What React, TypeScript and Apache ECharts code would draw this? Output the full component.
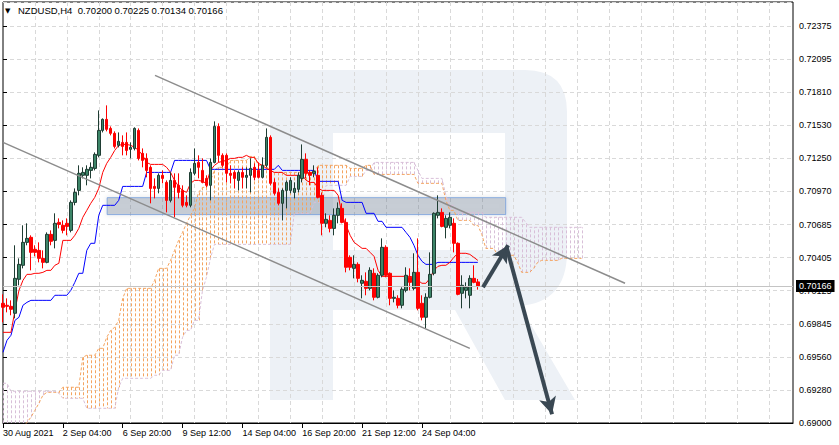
import React, { useEffect, useRef } from "react";
import * as echarts from "echarts";

const symbolName = "NZDUSD";
const timeframe = "H4";
const timeLabels = ["30 Aug 2021", "2 Sep 04:00", "6 Sep 20:00", "9 Sep 12:00", "14 Sep 04:00", "16 Sep 20:00", "21 Sep 12:00", "24 Sep 04:00"];
const labelStep = 15;
const gridStep = 8;
const slotCount = 199;
const priceTicks = [0.69, 0.6928, 0.6956, 0.69845, 0.70125, 0.70405, 0.70685, 0.7097, 0.7125, 0.7153, 0.7181, 0.72095, 0.72375];
const priceMin = 0.69;
const priceMax = 0.7258;
const priceStep = 0.0028125;

// [open, close, low, high]
const candles = [
  [0.70018, 0.69984, 0.69856, 0.70094], [0.70001, 0.69992, 0.69941, 0.7006], [0.69992, 0.69967, 0.69916, 0.70043], [0.69933, 0.7023, 0.6989, 0.70511], [0.70222, 0.70349, 0.70171, 0.704],
  [0.70341, 0.70536, 0.70315, 0.70681], [0.70536, 0.7057, 0.70511, 0.70698], [0.70579, 0.70451, 0.70298, 0.70596], [0.70477, 0.70451, 0.70417, 0.70511], [0.70468, 0.704, 0.70366, 0.70536],
  [0.704, 0.70366, 0.70315, 0.70468], [0.70366, 0.70604, 0.70358, 0.70621], [0.70604, 0.70545, 0.70511, 0.70638], [0.70553, 0.70698, 0.70485, 0.70783], [0.70706, 0.70689, 0.70655, 0.7074],
  [0.70681, 0.70638, 0.70613, 0.70723], [0.70698, 0.70672, 0.70596, 0.7074], [0.70638, 0.70876, 0.70621, 0.70893], [0.70876, 0.70961, 0.70851, 0.70995], [0.70978, 0.71123, 0.70936, 0.71191],
  [0.71106, 0.71131, 0.7108, 0.71174], [0.71106, 0.71157, 0.71021, 0.71191], [0.71148, 0.71174, 0.7108, 0.71216], [0.71165, 0.71284, 0.71148, 0.71301], [0.71276, 0.71488, 0.71259, 0.71658],
  [0.71488, 0.71582, 0.71471, 0.7159], [0.71582, 0.71497, 0.7148, 0.71701], [0.71505, 0.71463, 0.71446, 0.71522], [0.71463, 0.71352, 0.71335, 0.7148], [0.71361, 0.71395, 0.71344, 0.71471],
  [0.71386, 0.71352, 0.71276, 0.71446], [0.71386, 0.71318, 0.71276, 0.71471], [0.71327, 0.71344, 0.7125, 0.71386], [0.71335, 0.71505, 0.71318, 0.71514], [0.71488, 0.7125, 0.71233, 0.71505],
  [0.71293, 0.71233, 0.71174, 0.71335], [0.7125, 0.71148, 0.71089, 0.71293], [0.71174, 0.70995, 0.70868, 0.71191], [0.71012, 0.70995, 0.7091, 0.7108], [0.70995, 0.71106, 0.70953, 0.71123],
  [0.71106, 0.7108, 0.71038, 0.71148], [0.71046, 0.70893, 0.70791, 0.71063], [0.70893, 0.71063, 0.70876, 0.71131], [0.71063, 0.71004, 0.70749, 0.71123], [0.71021, 0.70961, 0.7091, 0.71123],
  [0.70978, 0.70851, 0.70834, 0.71021], [0.70876, 0.70851, 0.70834, 0.70936], [0.70851, 0.71131, 0.70834, 0.71165], [0.71123, 0.71208, 0.71106, 0.71335], [0.71216, 0.71174, 0.7108, 0.71276],
  [0.71148, 0.71046, 0.71038, 0.7125], [0.7108, 0.71021, 0.71004, 0.71106], [0.71021, 0.71216, 0.70893, 0.7125], [0.71216, 0.71522, 0.71208, 0.71565], [0.71522, 0.71276, 0.71216, 0.71548],
  [0.71276, 0.71191, 0.71174, 0.71293], [0.71276, 0.71123, 0.71046, 0.71293], [0.71123, 0.71106, 0.71038, 0.71191], [0.71131, 0.7108, 0.70995, 0.71148], [0.71063, 0.71131, 0.70978, 0.71148],
  [0.71131, 0.71089, 0.70995, 0.71174], [0.71089, 0.71106, 0.70995, 0.71174], [0.71106, 0.71165, 0.70961, 0.7125], [0.71174, 0.71089, 0.71063, 0.71208], [0.71148, 0.71089, 0.7108, 0.71216],
  [0.71089, 0.71191, 0.7108, 0.71259], [0.71191, 0.71429, 0.71174, 0.71505], [0.71429, 0.71038, 0.71021, 0.71446], [0.71046, 0.70953, 0.70936, 0.7108], [0.70961, 0.70868, 0.70851, 0.70995],
  [0.70868, 0.70978, 0.70723, 0.70995], [0.70978, 0.71046, 0.70825, 0.71063], [0.70978, 0.71063, 0.70953, 0.71089], [0.70961, 0.70995, 0.7091, 0.71046], [0.70987, 0.71106, 0.70961, 0.71131],
  [0.7108, 0.71242, 0.71046, 0.71369], [0.71242, 0.71123, 0.7108, 0.71293], [0.71131, 0.71106, 0.71021, 0.71148], [0.71123, 0.7114, 0.71089, 0.71191], [0.71106, 0.70919, 0.7091, 0.71174],
  [0.70936, 0.70698, 0.70596, 0.70961], [0.70698, 0.70732, 0.70664, 0.70783], [0.70723, 0.70655, 0.70621, 0.70766], [0.70655, 0.70766, 0.70596, 0.70825], [0.70766, 0.70825, 0.70698, 0.70876],
  [0.70825, 0.70706, 0.70698, 0.70868], [0.70706, 0.70324, 0.70281, 0.7074], [0.70409, 0.70324, 0.70298, 0.70426], [0.70315, 0.70349, 0.7023, 0.70426], [0.70349, 0.7023, 0.70196, 0.70366],
  [0.70188, 0.70213, 0.7006, 0.70256], [0.70205, 0.70145, 0.70086, 0.70281], [0.70145, 0.70298, 0.70128, 0.70324], [0.70273, 0.70069, 0.70043, 0.70315], [0.70069, 0.70256, 0.7006, 0.70273],
  [0.70256, 0.70494, 0.70239, 0.7057], [0.70494, 0.70256, 0.70239, 0.70511], [0.70273, 0.7006, 0.70001, 0.70281], [0.7006, 0.70069, 0.70026, 0.70128], [0.7006, 0.70001, 0.69975, 0.70086],
  [0.70001, 0.70137, 0.69975, 0.70154], [0.70128, 0.70256, 0.70111, 0.70324], [0.70239, 0.70196, 0.70128, 0.70315], [0.70145, 0.70281, 0.70128, 0.70443], [0.70281, 0.69975, 0.69958, 0.7057],
  [0.70018, 0.69899, 0.69873, 0.70086], [0.69899, 0.70069, 0.69805, 0.70103], [0.70069, 0.70264, 0.7006, 0.70451], [0.70273, 0.70783, 0.70256, 0.70791], [0.70766, 0.70791, 0.7074, 0.70936],
  [0.70791, 0.70672, 0.70664, 0.70825], [0.70664, 0.7074, 0.7057, 0.70766], [0.70681, 0.70749, 0.70655, 0.70791], [0.70698, 0.70528, 0.70451, 0.7074], [0.70528, 0.70094, 0.70086, 0.70536],
  [0.70103, 0.70171, 0.69975, 0.70256], [0.70128, 0.70154, 0.7006, 0.70196], [0.70086, 0.7023, 0.69975, 0.70256], [0.7023, 0.70196, 0.70188, 0.70341], [0.702, 0.70166, 0.70134, 0.70225],
];

const tenkan = [
  0.69771, 0.69771, 0.69771, 0.69958, 0.70128, 0.70213, 0.70264, 0.70264, 0.70273, 0.70273,
  0.70281, 0.70298, 0.70298, 0.70341, 0.70358, 0.70553, 0.70553, 0.70553, 0.70596, 0.70655,
  0.70749, 0.70808, 0.70868, 0.70919, 0.70995, 0.71131, 0.71208, 0.71259, 0.71318, 0.71361,
  0.71369, 0.71369, 0.71361, 0.71344, 0.71318, 0.71276, 0.71216, 0.71199, 0.71199, 0.71199,
  0.71199, 0.71174, 0.71131, 0.71063, 0.71012, 0.70978, 0.70961, 0.71038, 0.71063, 0.71063,
  0.71055, 0.71038, 0.71148, 0.71191, 0.71216, 0.71225, 0.71233, 0.7125, 0.7125, 0.71259,
  0.71259, 0.71276, 0.71259, 0.71259, 0.71208, 0.71191, 0.71165, 0.71148, 0.71131, 0.71131,
  0.71131, 0.71106, 0.71106, 0.71106, 0.71106, 0.71106, 0.71063, 0.71046, 0.71046, 0.70995,
  0.70978, 0.70978, 0.70978, 0.70978, 0.70936, 0.70766, 0.70681, 0.70596, 0.70536, 0.70511,
  0.70485, 0.70485, 0.70451, 0.70417, 0.70298, 0.70247, 0.70247, 0.70247, 0.70247, 0.70247,
  0.70247, 0.70247, 0.70247, 0.70239, 0.70213, 0.70188, 0.70188, 0.7023, 0.70298, 0.70332,
  0.70341, 0.70341, 0.70366, 0.70409, 0.70443, 0.70443, 0.70443, 0.70434, 0.70409, 0.70383,
];

const kijun = [
  0.69601, 0.69703, 0.69746, 0.69873, 0.69899, 0.70001, 0.70026, 0.70043, 0.70043, 0.70043,
  0.70043, 0.70043, 0.70043, 0.70086, 0.70086, 0.70086, 0.70086, 0.70128, 0.70196, 0.70273,
  0.70273, 0.70468, 0.70528, 0.70528, 0.70766, 0.70851, 0.70851, 0.70851, 0.70851, 0.70893,
  0.71012, 0.71012, 0.71012, 0.71012, 0.71012, 0.71012, 0.71131, 0.71131, 0.71131, 0.71131,
  0.71131, 0.71131, 0.71131, 0.71233, 0.71233, 0.71233, 0.71233, 0.71233, 0.71233, 0.71233,
  0.71233, 0.71233, 0.71157, 0.71157, 0.71157, 0.71157, 0.71157, 0.71157, 0.71157, 0.71157,
  0.71157, 0.71157, 0.71157, 0.71157, 0.71157, 0.71157, 0.71157, 0.71157, 0.71157, 0.71191,
  0.71148, 0.71148, 0.71148, 0.71148, 0.71148, 0.71148, 0.71148, 0.71148, 0.71148, 0.71055,
  0.71055, 0.71055, 0.71055, 0.71055, 0.71055, 0.70893, 0.70876, 0.70876, 0.70876, 0.70876,
  0.70876, 0.70783, 0.70783, 0.70783, 0.70715, 0.70715, 0.70664, 0.70664, 0.70664, 0.70664,
  0.70664, 0.70621, 0.70579, 0.70511, 0.70426, 0.70375, 0.70349, 0.70349, 0.70349, 0.70366,
  0.70366, 0.70366, 0.70366, 0.70366, 0.70366, 0.70366, 0.70366, 0.70366, 0.70366, 0.70366,
];

const spanA = [
  0.68955, 0.68955, 0.68955, 0.68955, 0.68955, 0.68955, 0.69006, 0.69049, 0.69108, 0.69168,
  0.69236, 0.69261, 0.69261, 0.69261, 0.69261, 0.69304, 0.69304, 0.69304, 0.69304, 0.69304,
  0.69559, 0.69576, 0.69576, 0.69576, 0.69635, 0.69635, 0.69729, 0.69788, 0.69814, 0.69873,
  0.7006, 0.70145, 0.70145, 0.70145, 0.70145, 0.70145, 0.70145, 0.70145, 0.70213, 0.70315,
  0.70315, 0.70315, 0.70383, 0.70468, 0.70553, 0.70621, 0.70698, 0.70766, 0.70825, 0.70961,
  0.71004, 0.71004, 0.71063, 0.71148, 0.71174, 0.71174, 0.71174, 0.71233, 0.71233, 0.71233,
  0.71233, 0.71233, 0.71267, 0.71267, 0.71191, 0.71191, 0.71191, 0.71131, 0.71131, 0.71131,
  0.71131, 0.71131, 0.71131, 0.71131, 0.71131, 0.71131, 0.71131, 0.71131, 0.71131, 0.71191,
  0.71191, 0.71191, 0.71191, 0.71191, 0.71191, 0.71191, 0.71191, 0.71165, 0.71165, 0.71165,
  0.71165, 0.71191, 0.71191, 0.71114, 0.71114, 0.71114, 0.71114, 0.71114, 0.71114, 0.71114,
  0.71114, 0.71114, 0.71114, 0.71114, 0.71038, 0.71038, 0.71038, 0.71038, 0.71038, 0.71038,
  0.71038, 0.70893, 0.70808, 0.70808, 0.70723, 0.70723, 0.70723, 0.70723, 0.70681, 0.70681,
  0.70604, 0.70485, 0.70485, 0.70485, 0.70426, 0.70426, 0.70426, 0.70426, 0.70426, 0.70366,
  0.70281, 0.70281, 0.70281, 0.70315, 0.70366, 0.70383, 0.70383, 0.70383, 0.70383, 0.70383,
  0.704, 0.704, 0.704, 0.704, 0.704, 0.704,
];

const spanB = [
  0.69338, 0.69338, 0.6927, 0.6927, 0.6927, 0.6927, 0.6927, 0.6927, 0.6927, 0.6927,
  0.6927, 0.6927, 0.6927, 0.6927, 0.69253, 0.6921, 0.6921, 0.6921, 0.6921, 0.6921,
  0.6921, 0.69125, 0.69125, 0.69125, 0.69125, 0.69125, 0.69125, 0.69125, 0.69125, 0.69304,
  0.6938, 0.6938, 0.6938, 0.6938, 0.6938, 0.6938, 0.6938, 0.6938, 0.69406, 0.69406,
  0.69448, 0.69448, 0.69448, 0.69576, 0.69576, 0.69729, 0.69788, 0.69788, 0.69873, 0.69873,
  0.70128, 0.70239, 0.704, 0.70519, 0.70519, 0.70519, 0.70519, 0.70519, 0.70519, 0.70519,
  0.70519, 0.70519, 0.70519, 0.70519, 0.70519, 0.70519, 0.70519, 0.70519, 0.70519, 0.70519,
  0.70519, 0.70519, 0.70519, 0.70783, 0.70783, 0.70783, 0.70783, 0.70783, 0.70876, 0.70876,
  0.70876, 0.71021, 0.71021, 0.71021, 0.71021, 0.71021, 0.71021, 0.71097, 0.71097, 0.71097,
  0.71097, 0.71148, 0.71148, 0.71216, 0.71216, 0.71216, 0.71216, 0.71216, 0.71216, 0.71216,
  0.71216, 0.71216, 0.71216, 0.71216, 0.71148, 0.7108, 0.7108, 0.7108, 0.7108, 0.7108,
  0.7108, 0.70936, 0.70851, 0.70851, 0.70791, 0.70791, 0.70791, 0.70791, 0.70791, 0.70791,
  0.70791, 0.70749, 0.70749, 0.70749, 0.70749, 0.70749, 0.70749, 0.70749, 0.70749, 0.70749,
  0.70749, 0.70706, 0.70664, 0.70664, 0.70664, 0.70664, 0.70664, 0.70664, 0.70664, 0.70664,
  0.70664, 0.70664, 0.70664, 0.70664, 0.70664, 0.70664,
];

// drawn objects: [bar position, price]
const channelUpper = [[38.1, 0.71956], [155.9, 0.70188]];
const channelLower = [[0, 0.71386], [117.0, 0.69635]];
const zoneBars = [26.1, 126.0];
const zonePrices = [0.70772, 0.70916];
const arrowUp = [[120.3, 0.70154], [126.6, 0.70511]];
const arrowDown = [[126.3, 0.70485], [137.6, 0.69074]];

const logoPath =
  "M270 70 H525 Q567 70 567 112 V252 Q567 302 520 306 L575 400 H505 L455 310 H333 V400 H270 Z M333 133 V250 H505 V133 Z";

const FONT = "'Liberation Sans', Arial, sans-serif";
const BULL = "#3d8568";
const BULL_EDGE = "#1f3d33";
const BEAR = "#ff0000";
const HATCH_UP = "#f4a460";
const HATCH_DOWN = "#d8bfd8";
const GRID_LINE = "#d9d9d9";
const ARROW = "#3a4853";

function hatchSeries(name: string, rows: number[][], color: string) {
  return {
    type: "custom",
    name,
    z: 1,
    clip: true,
    silent: true,
    data: rows,
    encode: { x: 0, y: [1, 2] },
    renderItem: (params: any, api: any) => {
      const p1 = api.coord([api.value(0), api.value(1)]);
      const p2 = api.coord([api.value(0), api.value(2)]);
      const x = Math.round(p1[0]) + 0.5;
      return {
        type: "line",
        shape: { x1: x, y1: p1[1], x2: x, y2: p2[1] },
        style: { stroke: color, lineWidth: 1, lineDash: [3, 2] },
      };
    },
  };
}

export default function App() {
  const ref = useRef<HTMLDivElement>(null);

  useEffect(() => {
    if (!ref.current) return;
    echarts.graphic.registerShape("rlogo", echarts.graphic.extendPath(logoPath, {}));
    const chart = echarts.init(ref.current, null, { renderer: "svg" });

    const categories = Array.from({ length: slotCount }, (_, i) =>
      i % labelStep === 0 && i / labelStep < timeLabels.length ? timeLabels[i / labelStep] : "b" + i
    );
    const showLabel = (i: number) => i % labelStep === 0 && i / labelStep < timeLabels.length;
    const last = candles[candles.length - 1];
    const header = `${symbolName},${timeframe}  ${[last[0], last[3], last[2], last[1]].map((v) => v.toFixed(5)).join(" ")}`;
    const lastClose = last[1];
    const cloudUp: number[][] = [];
    const cloudDown: number[][] = [];
    spanA.forEach((a, i) => {
      if (a >= spanB[i]) cloudUp.push([i, a, spanB[i]]);
      else cloudDown.push([i, a, spanB[i]]);
    });

    const option: any = {
      animation: false,
      backgroundColor: "#ffffff",
      textStyle: { fontFamily: FONT },
      graphic: [
        { type: "rlogo", x: 0, y: 0, z: -10, silent: true, style: { fill: "#edf1f6" } },
        { type: "text", x: 5, y: 7, z: 10, style: { text: "▼", fontSize: 7, fill: "#000", fontFamily: "DejaVu Sans" } },
        { type: "text", x: 18, y: 5, z: 10, style: { text: header, fontSize: 9.5, fill: "#000", fontFamily: FONT } },
      ],
      grid: { left: 3, right: 46, top: 2, bottom: 22, show: true, borderColor: "#000", borderWidth: 1, backgroundColor: "transparent" },
      xAxis: [
        {
          type: "category",
          data: categories,
          boundaryGap: false,
          axisLine: { show: true, lineStyle: { color: "#000", width: 1 } },
          axisTick: { show: true, interval: (i: number) => showLabel(i), length: 5, lineStyle: { color: "#000" } },
          axisLabel: {
            interval: (i: number) => showLabel(i),
            align: "left",
            margin: 5,
            fontSize: 9,
            color: "#000",
            fontFamily: FONT,
          },
          splitLine: { show: true, interval: (i: number) => i % gridStep === 0 && i > 0, lineStyle: { color: GRID_LINE, type: [4, 3], width: 1 } },
        },
        { type: "value", min: 0, max: slotCount - 1, show: false },
      ],
      yAxis: {
        type: "value",
        position: "right",
        min: priceMin,
        max: priceMax,
        interval: priceStep,
        axisLine: { show: false },
        axisTick: { show: true, length: 4, lineStyle: { color: "#000" } },
        axisLabel: {
          margin: 6,
          fontSize: 9,
          color: "#000",
          fontFamily: FONT,
          showMaxLabel: false,
          formatter: (v: number) => {
            const t = priceTicks.find((p) => Math.abs(p - v) < 0.0005);
            return t !== undefined ? t.toFixed(5) : "";
          },
        },
        splitLine: { show: true, lineStyle: { color: GRID_LINE, type: [4, 3], width: 1 } },
      },
      series: [
        hatchSeries("cloudUp", cloudUp, HATCH_UP),
        hatchSeries("cloudDown", cloudDown, HATCH_DOWN),
        { type: "line", name: "spanA", data: spanA, z: 2, symbol: "none", silent: true, lineStyle: { color: HATCH_UP, width: 1, type: [3, 2] } },
        { type: "line", name: "spanB", data: spanB, z: 2, symbol: "none", silent: true, lineStyle: { color: HATCH_DOWN, width: 1, type: [3, 2] } },
        { type: "line", name: "kijun", data: kijun, z: 3, symbol: "none", silent: true, lineStyle: { color: "#0000ff", width: 1 } },
        {
          type: "line",
          name: "tenkan",
          data: tenkan,
          z: 3,
          symbol: "none",
          silent: true,
          lineStyle: { color: "#ff0000", width: 1 },
          markLine: {
            silent: true,
            symbol: ["none", "none"],
            animation: false,
            precision: 5,
            data: [{ yAxis: lastClose }],
            lineStyle: { color: "#c4c4c4", type: "solid", width: 1 },
            label: {
              show: true,
              position: "end",
              formatter: lastClose.toFixed(5),
              color: "#fff",
              backgroundColor: "#000",
              padding: [2, 3, 1, 3],
              fontSize: 9,
              fontFamily: FONT,
              distance: 3,
            },
          },
        },
        {
          type: "candlestick",
          name: symbolName,
          data: candles,
          z: 4,
          barWidth: 3,
          silent: true,
          itemStyle: { color: BULL, borderColor: BULL_EDGE, color0: BEAR, borderColor0: BEAR, borderWidth: 1 },
        },
        {
          type: "line",
          name: "channelLower",
          xAxisIndex: 1,
          data: channelLower,
          z: 5,
          symbol: "none",
          silent: true,
          lineStyle: { color: "#8c8c8c", width: 1.5 },
          markArea: {
            silent: true,
            itemStyle: {
              color: "rgba(110,125,145,0.32)",
              borderColor: "rgba(120,160,220,0.85)",
              borderWidth: 1,
              shadowBlur: 5,
              shadowColor: "rgba(0,0,0,0.2)",
            },
            data: [[{ coord: [zoneBars[0], zonePrices[1]] }, { coord: [zoneBars[1], zonePrices[0]] }]],
          },
        },
        {
          type: "line",
          name: "channelUpper",
          xAxisIndex: 1,
          data: channelUpper,
          z: 6,
          symbol: "none",
          silent: true,
          lineStyle: { color: "#8c8c8c", width: 1.5 },
          markLine: {
            silent: true,
            animation: false,
            precision: 5,
            symbol: ["none", "arrow"],
            symbolSize: [13, 17],
            label: { show: false },
            lineStyle: { color: ARROW, width: 4, type: "solid" },
            data: [
              [{ coord: arrowUp[0] }, { coord: arrowUp[1] }],
              [{ coord: arrowDown[0] }, { coord: arrowDown[1] }],
            ],
          },
        },
      ],
    };

    chart.setOption(option);
    return () => chart.dispose();
  }, []);

  return (
    <div
      ref={ref}
      style={{ position: "absolute", left: 0, top: 0, width: 839, height: 445, background: "#fff" }}
    />
  );
}
